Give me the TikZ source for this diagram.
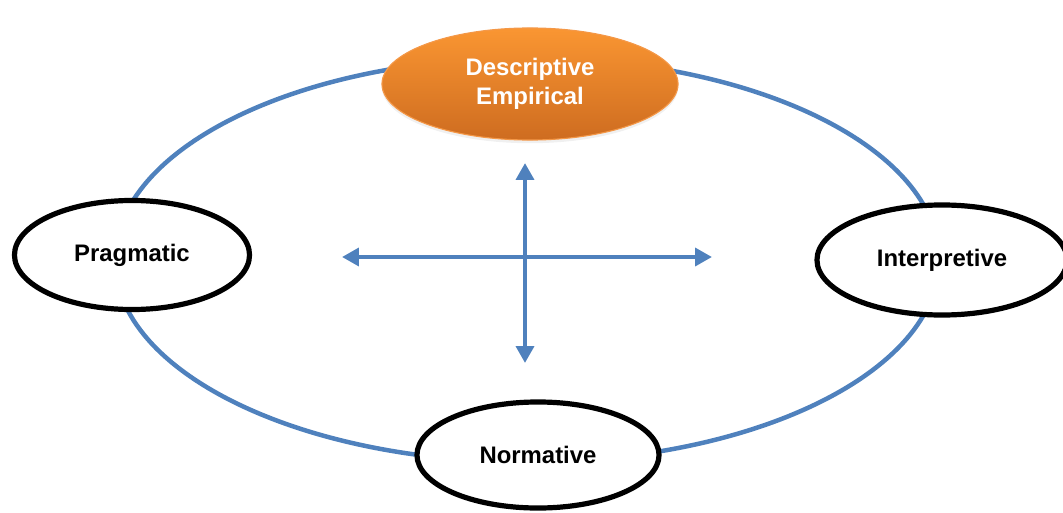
\documentclass[tikz,border=0pt]{standalone}
\usepackage{fontspec}
\setmainfont{Liberation Sans}
\usetikzlibrary{shapes.geometric}
\usetikzlibrary{arrows.meta}
\usetikzlibrary{shadows}
\definecolor{ring-blue}{RGB}{79, 129, 189}
\definecolor{desc-top}{RGB}{250, 150, 50}
\definecolor{desc-bottom}{RGB}{206, 108, 32}
\definecolor{desc-edge}{RGB}{244, 152, 72}
\tikzset{
    view/.style={ellipse, draw=black, line width=3.7pt, fill=white, inner sep=0pt,
        font=\bfseries\fontsize{17}{20.5}\selectfont, align=center},
    axis arrow/.style={draw=ring-blue, line width=3.4pt,
        {Triangle[length=0.42cm, width=0.44cm]}-{Triangle[length=0.42cm, width=0.44cm]}}
}

\begin{document}
\begin{tikzpicture}[x=0.025cm, y=-0.025cm]
            \useasboundingbox (0, 0) rectangle (1063, 512);
            \draw[ring-blue, line width=3.2pt] (527, 260) ellipse [x radius=10.3cm, y radius=5.05cm];
            \node[view, minimum width=7.4cm, minimum height=2.8cm, draw=desc-edge, line width=0.8pt,
                top color=desc-top, bottom color=desc-bottom, text=white,
                drop shadow={opacity=0.12, shadow xshift=0pt, shadow yshift=-0.08cm}] (desc) at (530, 84) {Descriptive\\Empirical};
            \node[view, minimum width=5.875cm, minimum height=2.725cm] (prag) at (132, 255) {Pragmatic};
            \node[view, minimum width=6.25cm, minimum height=2.75cm] (interp) at (942, 260) {Interpretive};
            \node[view, minimum width=6.05cm, minimum height=2.65cm] (norm) at (538, 455) {Normative};
            \coordinate (up) at (525, 163);
            \coordinate (down) at (525, 363);
            \coordinate (left) at (342, 257);
            \coordinate (right) at (712, 257);
            \draw[axis arrow] (down) -- (up);
            \draw[axis arrow] (left) -- (right);
        \end{tikzpicture}
\end{document}
